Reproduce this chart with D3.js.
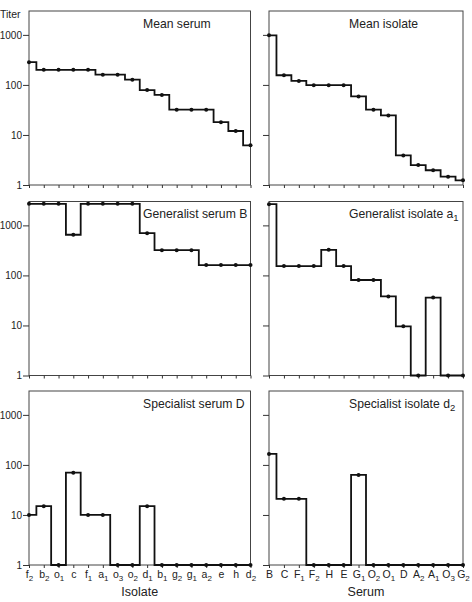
<!DOCTYPE html>
<html>
<head>
<meta charset="utf-8">
<script src="https://cdn.jsdelivr.net/npm/d3@7"></script>
<style>
  body { margin: 0; background: #fff; }
  svg { display: block; font-family: "Liberation Sans", Arial, sans-serif; }
</style>
</head>
<body>
<div id="chart"></div>
<script>
// categories (trailing digit = subscript)
var isolates = ["f2", "b2", "o1", "c", "f1", "a1", "o3", "o2", "d1", "b1", "g2", "g1", "a2", "e", "h", "d2"];
var sera = ["B", "C", "F1", "F2", "H", "E", "G1", "O2", "O1", "D", "A2", "A1", "O3", "G2"];

// titers (1 = below detection, drawn on the axis)
var meanSerum = [285, 200, 200, 200, 200, 160, 160, 127, 79, 63, 32, 32, 32, 18, 12, 6.2];
var meanIsolate = [980, 156, 120, 99, 99, 99, 59, 32, 24.6, 3.9, 2.5, 1.97, 1.47, 1.24];
var generalistSerumB = [2700, 2700, 2700, 650, 2700, 2700, 2700, 2700, 700, 320, 320, 320, 161, 161, 161, 161];
var generalistIsolateA1 = [2650, 154, 154, 154, 325, 154, 81, 81, 38, 9.6, 1, 36, 1, 1];
var specialistSerumD = [10, 15, 1, 70, 10, 10, 1, 1, 15, 1, 1, 1, 1, 1, 1, 1];
var specialistIsolateD2 = [166, 21, 21, 1, 1, 1, 63, 1, 1, 1, 1, 1, 1, 1];

var yTicks = [1, 10, 100, 1000];
var yDomain = [1, 3000];

var panels = [
  {title: "Mean serum", cats: isolates, values: meanSerum, col: 0, row: 0},
  {title: "Mean isolate", cats: sera, values: meanIsolate, col: 1, row: 0},
  {title: "Generalist serum B", cats: isolates, values: generalistSerumB, col: 0, row: 1},
  {title: "Generalist isolate a1", cats: sera, values: generalistIsolateA1, col: 1, row: 1},
  {title: "Specialist serum D", cats: isolates, values: specialistSerumD, col: 0, row: 2},
  {title: "Specialist isolate d2", cats: sera, values: specialistIsolateD2, col: 1, row: 2}
];

var width = 472, height = 602;
var cols = [[29, 250.5], [269, 463]];
var rowTops = [11, 201.5, 391];
var panelH = 174;
var titleX = [143, 349];

var svg = d3.select("#chart").append("svg")
    .attr("width", width)
    .attr("height", height);

// put text with an optional trailing-digit subscript into a text element
function subText(sel, label, subSize) {
  var m = label.match(/^(.*?)(\d?)$/);
  sel.text(null);
  sel.append("tspan").text(m[1]);
  if (m[2]) {
    sel.append("tspan").attr("dy", 3).attr("font-size", subSize).text(m[2]);
  }
}

panels.forEach(function(p) {
  var x0 = cols[p.col][0], x1 = cols[p.col][1];
  var top = rowTops[p.row], bottom = top + panelH;

  var x = d3.scalePoint().domain(p.cats).range([x0, x1]);
  var y = d3.scaleLog().domain(yDomain).range([bottom, top]);

  var g = svg.append("g");

  // frame
  g.append("rect")
      .attr("x", x0)
      .attr("y", top)
      .attr("width", x1 - x0)
      .attr("height", panelH)
      .attr("fill", "none")
      .attr("stroke", "#444")
      .attr("stroke-width", 1);

  // y axis
  var yAxis = d3.axisLeft(y).tickValues(yTicks).tickSize(6).tickPadding(1)
      .tickFormat(p.col === 0 ? d3.format("d") : function() { return ""; });
  g.append("g")
      .attr("transform", "translate(" + x0 + ",0)")
      .call(yAxis)
      .call(function(a) {
        a.select(".domain").remove();
        a.selectAll("line").attr("stroke", "#333");
        a.selectAll("text").attr("font-size", 10).attr("fill", "#222").attr("font-family", null);
      });

  // x axis
  var xAxis = d3.axisBottom(x).tickSize(3).tickPadding(3);
  g.append("g")
      .attr("transform", "translate(0," + bottom + ")")
      .call(xAxis)
      .call(function(a) {
        a.select(".domain").remove();
        a.selectAll("line").attr("stroke", "#333");
        a.selectAll("text")
            .attr("font-size", 10.5)
            .attr("fill", "#222")
            .attr("font-family", null)
            .each(function(d) {
              if (p.row === 2) subText(d3.select(this), d, 8);
              else d3.select(this).remove();
            });
      });

  // step line
  var line = d3.line()
      .x(function(d, i) { return x(p.cats[i]); })
      .y(function(d) { return y(d); })
      .curve(d3.curveStep);

  g.append("path")
      .datum(p.values)
      .attr("d", line)
      .attr("fill", "none")
      .attr("stroke", "#111")
      .attr("stroke-width", 1.8);

  g.selectAll("circle")
      .data(p.values)
      .enter().append("circle")
      .attr("cx", function(d, i) { return x(p.cats[i]); })
      .attr("cy", function(d) { return y(d); })
      .attr("r", 2)
      .attr("fill", "#111");

  // title
  g.append("text")
      .attr("x", titleX[p.col])
      .attr("y", top + 16.5)
      .attr("font-size", 12.2)
      .attr("fill", "#222")
      .call(subText, p.title, 9.5);
});

// axis titles
svg.append("text")
    .attr("x", 0)
    .attr("y", 18)
    .attr("font-size", 10.5)
    .attr("fill", "#222")
    .text("Titer");

svg.append("text")
    .attr("x", (cols[0][0] + cols[0][1]) / 2)
    .attr("y", 596)
    .attr("text-anchor", "middle")
    .attr("font-size", 12.5)
    .attr("fill", "#222")
    .text("Isolate");

svg.append("text")
    .attr("x", (cols[1][0] + cols[1][1]) / 2)
    .attr("y", 596)
    .attr("text-anchor", "middle")
    .attr("font-size", 12.5)
    .attr("fill", "#222")
    .text("Serum");
</script>
</body>
</html>
